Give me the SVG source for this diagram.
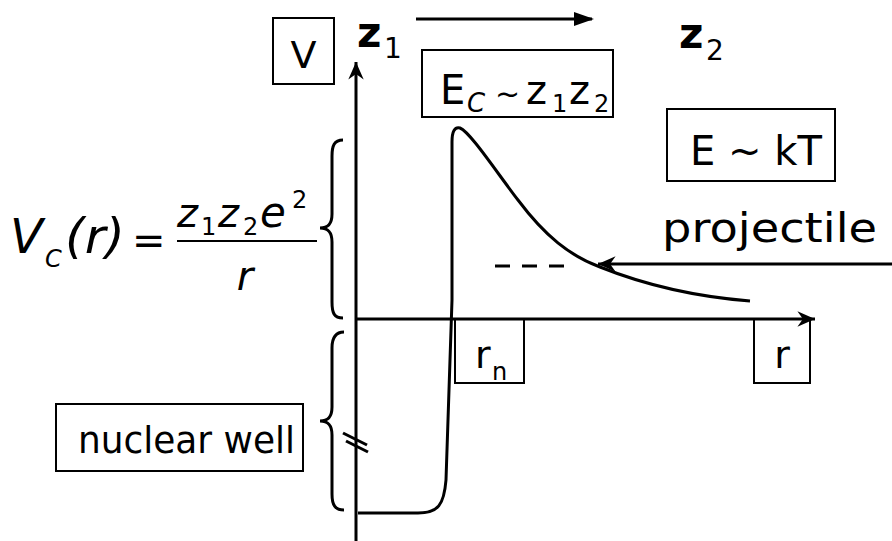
<svg xmlns="http://www.w3.org/2000/svg" width="892" height="541" viewBox="0 0 892 541">
<style>
  text { font-family: "DejaVu Sans", "Liberation Sans", sans-serif; fill: #000; }
  .box { fill: none; stroke: #000; stroke-width: 2; }
  .ln { fill: none; stroke: #000; stroke-width: 3; }
  .it { font-style: italic; }
</style>
<defs>
  <marker id="barb" viewBox="0 0 20 20" refX="18" refY="10" markerWidth="22" markerHeight="22" markerUnits="userSpaceOnUse" orient="auto">
    <path d="M2,3 L18,10 L2,17 L7,10 Z" fill="#000"/>
  </marker>
  <marker id="tri" viewBox="0 0 20 20" refX="18" refY="10" markerWidth="20" markerHeight="20" markerUnits="userSpaceOnUse" orient="auto">
    <path d="M0,3 L20,10 L0,17 Z" fill="#000"/>
  </marker>
</defs>

<g id="connectors">
  <line id="v-axis" class="ln" x1="356" y1="541" x2="356" y2="62" marker-end="url(#barb)"/>
  <line id="r-axis" class="ln" x1="356" y1="319" x2="815" y2="319" marker-end="url(#barb)"/>
  <line id="top-arrow" class="ln" x1="416" y1="19" x2="592" y2="19" marker-end="url(#tri)"/>
  <line id="proj-arrow" class="ln" x1="892" y1="264" x2="598" y2="264" stroke-width="2.5" marker-end="url(#barb)"/>
  <line id="dash" class="ln" x1="495" y1="266" x2="565" y2="266" stroke-dasharray="15,12"/>
  <path id="curve" class="ln" d="M358,513 L418,513 C438,513 444,505 446,480 L452,300 L452,142 Q452,126 460,128 C470,132 495,170 518,200 C545,236 570,256 600,267 C650,287 700,297 750,301"/>
  <path id="brace-top" class="ln" d="M343,140 C334,140 332,146 332,156 L332,214 C332,224 328,228 320,228 C328,228 332,232 332,242 L332,302 C332,313 334,318 343,318"/>
  <path id="brace-bottom" class="ln" d="M344,332 C335,332 332,338 332,348 L332,407 C332,417 328,421 320,421 C328,421 332,425 332,435 L332,494 C332,505 335,510 344,510"/>
  <line class="ln" x1="343" y1="433" x2="367" y2="445"/>
  <line class="ln" x1="346" y1="441" x2="368" y2="452"/>
</g>

<g id="V-label">
  <rect class="box" x="273" y="18" width="61" height="66"/>
  <text x="303.5" y="68" font-size="38" text-anchor="middle">V</text>
</g>

<g id="z1">
  <text x="357" y="47" font-size="42" font-weight="bold">z</text>
  <text x="384" y="58" font-size="28">1</text>
</g>

<g id="z2">
  <text x="679" y="48" font-size="42" font-weight="bold">z</text>
  <text x="706" y="60" font-size="28">2</text>
</g>

<g id="Ec-label">
  <rect class="box" x="422" y="50" width="191" height="67"/>
  <text x="440" y="104" font-size="40">E</text>
  <text x="467" y="112" font-size="26" class="it">C</text>
  <text x="495" y="104" font-size="30">~</text>
  <text x="526" y="104" font-size="40">z</text>
  <text x="552" y="112" font-size="24">1</text>
  <text x="569" y="104" font-size="40">z</text>
  <text x="594" y="112" font-size="24">2</text>
</g>

<g id="EkT-label">
  <rect class="box" x="667" y="109" width="168" height="72"/>
  <text x="690" y="165" font-size="40" textLength="132" lengthAdjust="spacingAndGlyphs">E ~ kT</text>
</g>

<g id="projectile-label">
  <text x="662" y="242" font-size="40" textLength="215" lengthAdjust="spacingAndGlyphs">projectile</text>
</g>

<g id="rn-label">
  <rect class="box" x="455" y="319" width="69" height="64"/>
  <text x="475" y="368" font-size="38">r</text>
  <text x="492" y="380" font-size="24">n</text>
</g>

<g id="r-label">
  <rect class="box" x="754" y="319" width="56" height="64"/>
  <text x="782" y="368" font-size="38" text-anchor="middle">r</text>
</g>

<g id="nuclear-well-label">
  <rect class="box" x="56" y="404" width="247" height="67"/>
  <text x="78" y="453" font-size="38" textLength="217" lengthAdjust="spacingAndGlyphs">nuclear well</text>
</g>

<g id="coulomb-formula">
  <text x="10" y="253" font-size="48" class="it">V</text>
  <text x="45" y="267" font-size="24" class="it">C</text>
  <text x="65" y="253" font-size="48" class="it" textLength="60" lengthAdjust="spacingAndGlyphs">(r)</text>
  <text x="132" y="254" font-size="40">=</text>
  <text x="177" y="227" font-size="40" class="it">z</text>
  <text x="201" y="235" font-size="24">1</text>
  <text x="218" y="227" font-size="40" class="it">z</text>
  <text x="243" y="235" font-size="24">2</text>
  <text x="260" y="227" font-size="42" class="it">e</text>
  <text x="292" y="208" font-size="24">2</text>
  <line x1="177" y1="241" x2="317" y2="241" stroke="#000" stroke-width="2"/>
  <text x="245" y="290" font-size="40" class="it" text-anchor="middle">r</text>
</g>
</svg>
